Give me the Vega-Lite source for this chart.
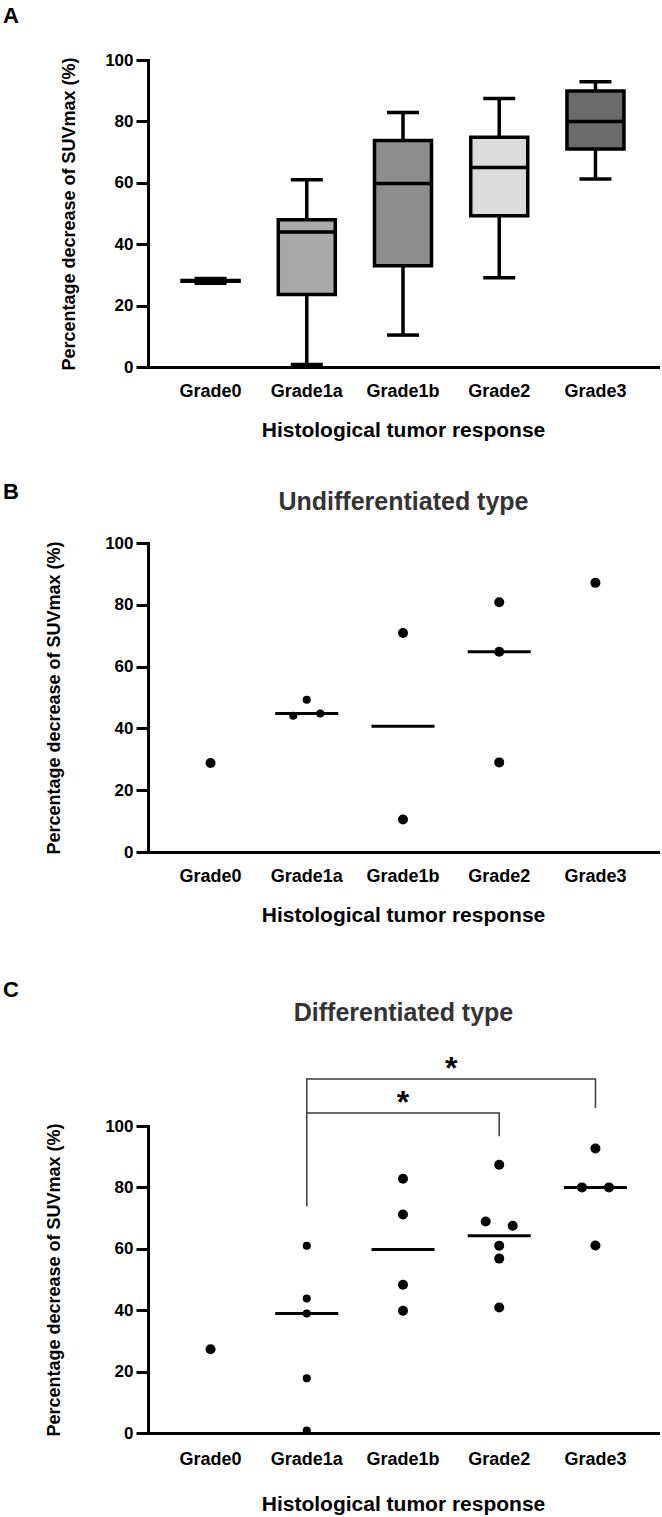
{
  "$schema": "https://vega.github.io/schema/vega-lite/v6.json",
  "padding": {"left": 3, "top": 5, "right": 2, "bottom": 2},
  "config": {
    "font": "Liberation Sans",
    "view": {"stroke": null},
    "tick": {"opacity": 1},
    "axis": {
      "grid": false,
      "labelFont": "Liberation Sans",
      "titleFont": "Liberation Sans",
      "labelFontWeight": "bold",
      "titleFontWeight": "bold",
      "labelColor": "#000000",
      "titleColor": "#000000",
      "domainColor": "#000000",
      "tickColor": "#000000",
      "minExtent": 0
    },
    "title": {
      "font": "Liberation Sans",
      "fontWeight": "bold",
      "fontSize": 22,
      "color": "#000000",
      "anchor": "start",
      "frame": "group"
    }
  },
  "datasets": {
    "grade_summary": [
      {"grade": "Grade0", "min": 27.3, "q1": 27.9, "median": 28.05, "q3": 28.2, "max": 28.8},
      {"grade": "Grade1a", "min": 0.8, "q1": 23.6, "median": 44.0, "q3": 48.0, "max": 61.0},
      {"grade": "Grade1b", "min": 10.4, "q1": 33.0, "median": 59.8, "q3": 73.8, "max": 82.9},
      {"grade": "Grade2", "min": 29.1, "q1": 49.3, "median": 65.0, "q3": 74.8, "max": 87.5},
      {"grade": "Grade3", "min": 61.2, "q1": 71.0, "median": 80.0, "q3": 89.9, "max": 92.9}
    ],
    "undifferentiated": [
      {"grade": "Grade0", "value": 28.8, "side": "center"},
      {"grade": "Grade1a", "value": 44.1, "side": "left"},
      {"grade": "Grade1a", "value": 44.8, "side": "right"},
      {"grade": "Grade1a", "value": 49.3, "side": "center"},
      {"grade": "Grade1b", "value": 70.9, "side": "center"},
      {"grade": "Grade1b", "value": 10.5, "side": "center"},
      {"grade": "Grade2", "value": 80.8, "side": "center"},
      {"grade": "Grade2", "value": 64.8, "side": "center"},
      {"grade": "Grade2", "value": 29.0, "side": "center"},
      {"grade": "Grade3", "value": 87.1, "side": "center"}
    ],
    "undifferentiated_median": [
      {"grade": "Grade1a", "median": 44.8},
      {"grade": "Grade1b", "median": 40.7},
      {"grade": "Grade2", "median": 64.8}
    ],
    "differentiated": [
      {"grade": "Grade0", "value": 27.3, "side": "center"},
      {"grade": "Grade1a", "value": 61.0, "side": "center"},
      {"grade": "Grade1a", "value": 43.8, "side": "center"},
      {"grade": "Grade1a", "value": 38.9, "side": "center"},
      {"grade": "Grade1a", "value": 17.8, "side": "center"},
      {"grade": "Grade1a", "value": 0.8, "side": "center"},
      {"grade": "Grade1b", "value": 82.8, "side": "center"},
      {"grade": "Grade1b", "value": 71.2, "side": "center"},
      {"grade": "Grade1b", "value": 48.3, "side": "center"},
      {"grade": "Grade1b", "value": 39.8, "side": "center"},
      {"grade": "Grade2", "value": 87.4, "side": "center"},
      {"grade": "Grade2", "value": 68.9, "side": "left"},
      {"grade": "Grade2", "value": 67.5, "side": "right"},
      {"grade": "Grade2", "value": 61.0, "side": "center"},
      {"grade": "Grade2", "value": 56.8, "side": "center"},
      {"grade": "Grade2", "value": 40.9, "side": "center"},
      {"grade": "Grade3", "value": 92.7, "side": "center"},
      {"grade": "Grade3", "value": 80.0, "side": "left"},
      {"grade": "Grade3", "value": 80.0, "side": "right"},
      {"grade": "Grade3", "value": 61.1, "side": "center"}
    ],
    "differentiated_median": [
      {"grade": "Grade1a", "median": 38.9},
      {"grade": "Grade1b", "median": 59.75},
      {"grade": "Grade2", "median": 64.25},
      {"grade": "Grade3", "median": 80.0}
    ],
    "brackets": [
      {"pair": "Grade1a vs Grade3", "grade": "Grade1a", "value": 73.9, "seq": 1},
      {"pair": "Grade1a vs Grade3", "grade": "Grade1a", "value": 115.3, "seq": 2},
      {"pair": "Grade1a vs Grade3", "grade": "Grade3", "value": 115.3, "seq": 3},
      {"pair": "Grade1a vs Grade3", "grade": "Grade3", "value": 105.9, "seq": 4},
      {"pair": "Grade1a vs Grade2", "grade": "Grade1a", "value": 104.2, "seq": 1},
      {"pair": "Grade1a vs Grade2", "grade": "Grade2", "value": 104.2, "seq": 2},
      {"pair": "Grade1a vs Grade2", "grade": "Grade2", "value": 96.7, "seq": 3}
    ],
    "significance": [
      {"pair": "Grade1a vs Grade3", "between": "Grade1b", "label": "*", "level": 115.3},
      {"pair": "Grade1a vs Grade2", "between": "Grade1b", "label": "*", "level": 104.2}
    ]
  },
  "spacing": 54,
  "vconcat": [
    {
      "spacing": 41,
      "vconcat": [
        {
          "title": {"text": "A", "dx": -145, "offset": 23},
          "width": 510,
          "height": 307,
          "data": {"name": "grade_summary"},
          "encoding": {
            "x": {
              "field": "grade",
              "type": "nominal",
              "scale": {"type": "band", "domain": ["Grade0", "Grade1a", "Grade1b", "Grade2", "Grade3"], "paddingInner": 0, "paddingOuter": 0.15},
              "axis": {
                "title": "Histological tumor response",
                "labelAngle": 0,
                "ticks": false,
                "tickSize": 0,
                "domainWidth": 3,
                "domainCap": "square",
                "labelPadding": 15,
                "labelFontSize": 18,
                "titleFontSize": 21,
                "titlePadding": 19
              }
            }
          },
          "layer": [
            {
              "mark": {"type": "rule", "color": "#000000", "strokeWidth": 3.5},
              "encoding": {
                "y": {
                  "field": "min",
                  "type": "quantitative",
                  "title": "Percentage decrease of SUVmax (%)",
                  "scale": {"domain": [0, 100], "nice": false},
                  "axis": {
                    "values": [0, 20, 40, 60, 80, 100],
                    "tickSize": 12,
                    "tickWidth": 3,
                    "domainWidth": 3,
                    "domainCap": "square",
                    "labelPadding": 3,
                    "labelFontSize": 17,
                    "titleFontSize": 18,
                    "titlePadding": 26
                  }
                },
                "y2": {"field": "max"}
              }
            },
            {
              "mark": {"type": "bar", "width": 57, "stroke": "#000000", "strokeWidth": 3.5},
              "encoding": {
                "y": {"field": "q1", "type": "quantitative", "title": "Percentage decrease of SUVmax (%)"},
                "y2": {"field": "q3"},
                "fill": {
                  "field": "grade",
                  "type": "nominal",
                  "scale": {"domain": ["Grade0", "Grade1a", "Grade1b", "Grade2", "Grade3"], "range": ["#bdbdbd", "#a9a9a9", "#8e8e8e", "#dcdcdc", "#6b6b6b"]},
                  "legend": null
                }
              }
            },
            {
              "mark": {"type": "tick", "color": "#000000", "opacity": 1, "thickness": 3.5, "size": 57},
              "encoding": {"y": {"field": "median", "type": "quantitative", "title": "Percentage decrease of SUVmax (%)"}}
            },
            {
              "mark": {"type": "tick", "color": "#000000", "opacity": 1, "thickness": 3.5, "size": 32},
              "encoding": {"y": {"field": "min", "type": "quantitative", "title": "Percentage decrease of SUVmax (%)"}}
            },
            {
              "mark": {"type": "tick", "color": "#000000", "opacity": 1, "thickness": 3.5, "size": 32},
              "encoding": {"y": {"field": "max", "type": "quantitative", "title": "Percentage decrease of SUVmax (%)"}}
            }
          ]
        },
        {
          "title": {"text": "B", "dx": -145, "offset": -15},
          "width": 510,
          "height": 309,
          "resolve": {"axis": {"x": "independent"}},
          "layer": [
            {
              "data": {"name": "undifferentiated"},
              "mark": {"type": "circle", "color": "#000000", "opacity": 1},
              "encoding": {
                "x": {
                  "field": "grade",
                  "type": "nominal",
                  "scale": {"type": "band", "domain": ["Grade0", "Grade1a", "Grade1b", "Grade2", "Grade3"], "paddingInner": 0, "paddingOuter": 0.15},
                  "axis": {
                    "title": "Histological tumor response",
                    "labelAngle": 0,
                    "ticks": false,
                    "tickSize": 0,
                    "domainWidth": 3,
                    "domainCap": "square",
                    "labelPadding": 15,
                    "labelFontSize": 18,
                    "titleFontSize": 21,
                    "titlePadding": 19
                  }
                },
                "xOffset": {
                  "field": "side",
                  "type": "nominal",
                  "scale": {"domain": ["left", "center", "right"], "range": [34.6, 61.6], "paddingInner": 0, "paddingOuter": 0}
                },
                "y": {
                  "field": "value",
                  "type": "quantitative",
                  "title": "Percentage decrease of SUVmax (%)",
                  "scale": {"domain": [0, 100], "nice": false},
                  "axis": {
                    "values": [0, 20, 40, 60, 80, 100],
                    "tickSize": 12,
                    "tickWidth": 3,
                    "domainWidth": 3,
                    "domainCap": "square",
                    "labelPadding": 3,
                    "labelFontSize": 17,
                    "titleFontSize": 18,
                    "titlePadding": 41
                  }
                },
                "size": {"condition": {"test": "datum.grade === 'Grade1a'", "value": 65}, "value": 100}
              }
            },
            {
              "data": {"name": "undifferentiated_median"},
              "mark": {"type": "tick", "color": "#000000", "opacity": 1, "thickness": 3, "size": 63},
              "encoding": {
                "x": {
                  "field": "grade",
                  "type": "nominal",
                  "scale": {"type": "band", "domain": ["Grade0", "Grade1a", "Grade1b", "Grade2", "Grade3"], "paddingInner": 0, "paddingOuter": 0.15},
                  "axis": {
                    "orient": "top",
                    "title": "Undifferentiated type",
                    "labels": false,
                    "ticks": false,
                    "domain": false,
                    "titleFontSize": 25,
                    "titleColor": "#333333",
                    "titlePadding": 29
                  }
                },
                "y": {"field": "median", "type": "quantitative", "title": "Percentage decrease of SUVmax (%)"}
              }
            }
          ]
        }
      ]
    },
    {
      "title": {"text": "C", "dx": -145, "offset": -2},
      "width": 510,
      "height": 307,
      "resolve": {"axis": {"x": "independent"}},
      "layer": [
        {
          "data": {"name": "brackets"},
          "mark": {"type": "line", "color": "#3a3a3a", "strokeWidth": 1.5},
          "encoding": {
            "x": {
              "field": "grade",
              "type": "nominal",
              "scale": {"type": "band", "domain": ["Grade0", "Grade1a", "Grade1b", "Grade2", "Grade3"], "paddingInner": 0, "paddingOuter": 0.15},
              "axis": null
            },
            "y": {"field": "value", "type": "quantitative", "title": "Percentage decrease of SUVmax (%)"},
            "detail": {"field": "pair"},
            "order": {"field": "seq", "type": "quantitative"}
          }
        },
        {
          "data": {"name": "differentiated"},
          "mark": {"type": "circle", "color": "#000000", "opacity": 1},
          "encoding": {
            "x": {
              "field": "grade",
              "type": "nominal",
              "scale": {"type": "band", "domain": ["Grade0", "Grade1a", "Grade1b", "Grade2", "Grade3"], "paddingInner": 0, "paddingOuter": 0.15},
              "axis": {
                "title": "Histological tumor response",
                "labelAngle": 0,
                "ticks": false,
                "tickSize": 0,
                "domainWidth": 3,
                "domainCap": "square",
                "labelPadding": 17,
                "labelFontSize": 18,
                "titleFontSize": 21,
                "titlePadding": 25
              }
            },
            "xOffset": {
              "field": "side",
              "type": "nominal",
              "scale": {"domain": ["left", "center", "right"], "range": [31.6, 64.6], "paddingInner": 0, "paddingOuter": 0}
            },
            "y": {
              "field": "value",
              "type": "quantitative",
              "title": "Percentage decrease of SUVmax (%)",
              "scale": {"domain": [0, 100], "nice": false},
              "axis": {
                "values": [0, 20, 40, 60, 80, 100],
                "tickSize": 12,
                "tickWidth": 3,
                "domainWidth": 3,
                "domainCap": "square",
                "labelPadding": 3,
                "labelFontSize": 17,
                "titleFontSize": 18,
                "titlePadding": 41
              }
            },
            "size": {"condition": {"test": "datum.grade === 'Grade1a'", "value": 65}, "value": 100}
          }
        },
        {
          "data": {"name": "differentiated_median"},
          "mark": {"type": "tick", "color": "#000000", "opacity": 1, "thickness": 3, "size": 63},
          "encoding": {
            "x": {
              "field": "grade",
              "type": "nominal",
              "scale": {"type": "band", "domain": ["Grade0", "Grade1a", "Grade1b", "Grade2", "Grade3"], "paddingInner": 0, "paddingOuter": 0.15},
              "axis": {
                "orient": "top",
                "title": "Differentiated type",
                "labels": false,
                "ticks": false,
                "domain": false,
                "titleFontSize": 25,
                "titleColor": "#333333",
                "titlePadding": 101
              }
            },
            "y": {"field": "median", "type": "quantitative", "title": "Percentage decrease of SUVmax (%)"}
          }
        },
        {
          "data": {"name": "significance"},
          "transform": [{"filter": "datum.pair === 'Grade1a vs Grade3'"}],
          "mark": {"type": "text", "fontSize": 32, "fontWeight": "bold", "baseline": "alphabetic", "color": "#000000"},
          "encoding": {
            "x": {
              "field": "between",
              "type": "nominal",
              "bandPosition": 1,
              "scale": {"type": "band", "domain": ["Grade0", "Grade1a", "Grade1b", "Grade2", "Grade3"], "paddingInner": 0, "paddingOuter": 0.15},
              "axis": null
            },
            "y": {"field": "level", "type": "quantitative", "title": "Percentage decrease of SUVmax (%)"},
            "text": {"field": "label"}
          }
        },
        {
          "data": {"name": "significance"},
          "transform": [{"filter": "datum.pair === 'Grade1a vs Grade2'"}],
          "mark": {"type": "text", "fontSize": 32, "fontWeight": "bold", "baseline": "alphabetic", "color": "#000000"},
          "encoding": {
            "x": {
              "field": "between",
              "type": "nominal",
              "bandPosition": 0.5,
              "scale": {"type": "band", "domain": ["Grade0", "Grade1a", "Grade1b", "Grade2", "Grade3"], "paddingInner": 0, "paddingOuter": 0.15},
              "axis": null
            },
            "y": {"field": "level", "type": "quantitative", "title": "Percentage decrease of SUVmax (%)"},
            "text": {"field": "label"}
          }
        }
      ]
    }
  ]
}
